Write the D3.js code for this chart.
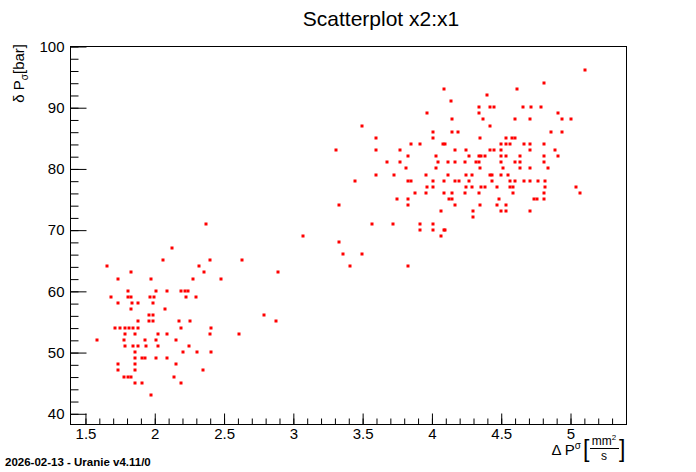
<!DOCTYPE html>
<html>
<head>
<meta charset="utf-8">
<script src="https://cdn.jsdelivr.net/npm/d3@7"></script>
<style>
html,body{margin:0;padding:0;background:#fff;}
svg{display:block;font-family:"Liberation Sans",Arial,Helvetica,sans-serif;}
</style>
</head>
<body>
<svg id="chart" width="696" height="472"></svg>
<script>
// x axis variable (x1) and y axis variable (x2)
const x1Values = [
2.13,2.06,2.40,1.66,2.32,1.83,2.36,1.74,1.98,2.28,2.48,1.81,2.01,2.09,2.19,2.22,2.24,
1.69,1.81,1.83,1.97,2.00,2.23,2.30,1.74,1.84,1.88,1.99,1.83,2.08,1.96,1.99,1.88,1.96,
1.99,2.18,2.26,1.72,1.75,1.79,1.82,1.85,1.88,2.19,2.41,1.79,1.86,2.03,2.09,2.40,2.61,
1.59,1.78,1.93,2.01,2.16,1.79,1.85,1.88,1.94,2.03,2.25,1.86,2.21,2.31,2.41,1.86,1.91,
1.93,2.01,2.09,1.74,1.86,2.16,1.74,1.86,2.35,1.78,1.81,1.83,2.14,1.86,1.91,2.19,1.98,
2.37,2.63,2.89,2.79,2.88,3.07,3.33,3.36,3.50,3.41,3.57,3.72,
4.09,4.14,4.34,3.97,4.34,4.15,3.50,4.01,4.15,4.19,3.60,4.01,4.35,3.85,3.92,4.08,4.10,
3.31,3.60,3.77,4.17,4.25,3.83,4.03,4.27,4.34,3.68,3.77,4.05,4.12,4.17,4.24,4.32,4.34,
3.82,4.03,4.35,3.60,3.73,3.96,4.12,4.25,4.29,3.45,3.83,3.85,4.01,4.09,4.17,4.20,4.27,
3.97,4.01,4.25,4.29,3.88,3.96,4.09,4.15,4.24,4.34,3.75,3.83,4.13,4.15,3.33,3.83,4.17,
4.35,4.30,4.07,4.30,3.92,4.01,3.92,4.01,4.09,4.10,4.07,3.83,
5.11,4.81,4.62,4.40,4.42,4.45,4.66,4.72,4.79,4.91,4.37,4.60,4.71,4.94,5.01,4.42,4.86,
4.94,4.54,4.58,4.60,4.50,4.54,4.57,4.67,4.71,4.81,4.42,4.45,4.50,4.71,4.89,4.36,4.39,
4.50,4.54,4.64,4.81,4.91,4.50,4.60,4.64,4.81,4.52,4.64,4.71,4.84,4.42,4.44,4.50,4.55,
4.44,4.57,4.60,4.67,4.71,4.77,4.82,4.36,4.39,4.47,4.57,4.59,4.82,5.04,4.59,4.81,5.07,
4.49,4.74,4.76,4.81,4.47,4.54,4.50,4.54,4.71
];
const x2Values = [
67,65,65,64,64,63,63,62,62,62,62,60,60,60,60,60,60,
59,59,59,59,59,59,59,58,58,58,58,57,57,56,56,55,55,
55,55,55,54,54,54,54,54,54,54,54,53,53,53,53,53,53,
52,52,52,52,52,51,51,51,51,51,51,50,50,50,50,49,49,
49,49,49,48,48,48,47,47,47,46,46,46,46,45,45,45,43,
71,65,63,56,55,69,68,66,66,64,71,71,
93,91,90,89,89,88,87,86,86,86,85,85,85,84,84,84,84,
83,83,83,83,83,82,82,82,82,81,81,81,81,81,81,81,81,
80,80,80,79,79,79,79,79,79,78,78,78,78,78,78,78,78,
77,77,77,77,76,76,76,76,76,76,75,75,75,75,74,74,74,
74,73,73,72,71,71,70,70,70,70,69,64,
96,94,93,92,90,90,90,90,90,89,88,88,88,88,88,87,86,
86,85,85,85,84,84,84,84,84,84,83,83,83,83,83,82,82,
82,82,82,82,82,81,81,81,81,80,80,80,80,79,79,79,79,
78,78,78,78,78,78,78,77,77,77,77,77,77,77,76,76,76,
75,75,75,75,74,74,73,73,73
];
const xTickValues = [1.5, 2, 2.5, 3, 3.5, 4, 4.5, 5];
const xTickLabels = ["1.5", "2", "2.5", "3", "3.5", "4", "4.5", "5"];
const yTickValues = [40, 50, 60, 70, 80, 90, 100];
const yTickLabels = ["40", "50", "60", "70", "80", "90", "100"];
const titleText = "Scatterplot x2:x1";
const footerText = "2026-02-13 - Uranie v4.11/0";

const points = x1Values.map((v, i) => ({x: v, y: x2Values[i]}));

const W = 696, H = 472;
const frame = {left: 70, top: 46, right: 626, bottom: 424};
const svg = d3.select("#chart");

const x = d3.scaleLinear().domain([1.392, 5.404]).range([frame.left, frame.right]);
const y = d3.scaleLinear().domain([38.25, 100]).range([frame.bottom, frame.top]);

const font = '"Liberation Sans",Arial,Helvetica,sans-serif';

// points
svg.append("g").selectAll("rect").data(points).join("rect")
  .attr("x", d => Math.round(x(d.x)) - 1.5)
  .attr("y", d => Math.round(y(d.y)) - 1.5)
  .attr("width", 3).attr("height", 3)
  .attr("fill", "#ff0000");

// frame
svg.append("rect")
  .attr("x", frame.left + 0.5).attr("y", frame.top + 0.5)
  .attr("width", frame.right - frame.left).attr("height", frame.bottom - frame.top)
  .attr("fill", "none").attr("stroke", "#000").attr("stroke-width", 1);

// x axis
const xMinor = d3.range(15, 54).map(v => v / 10);
const xAxisMinor = d3.axisBottom(x).tickValues(xMinor).tickSizeInner(-6).tickSizeOuter(0).tickFormat("");
const xAxisMajor = d3.axisBottom(x).tickValues(xTickValues).tickSizeInner(-11).tickSizeOuter(0)
  .tickPadding(4).tickFormat((d, i) => xTickLabels[i]);
const gxm = svg.append("g").attr("transform", `translate(0.5,${frame.bottom + 0.5})`).call(xAxisMinor);
const gx = svg.append("g").attr("transform", `translate(0.5,${frame.bottom + 0.5})`).call(xAxisMajor);
[gxm, gx].forEach(g => { g.select(".domain").remove(); g.selectAll("line").attr("stroke", "#000"); });
gx.selectAll("text").attr("font-size", 15).attr("font-family", font).attr("fill", "#000")
  .attr("y", 4).attr("dy", "0.71em");

// y axis
const yMinor = d3.range(40, 101, 2);
const yAxisMinor = d3.axisLeft(y).tickValues(yMinor).tickSizeInner(-8).tickSizeOuter(0).tickFormat("");
const yAxisMajor = d3.axisLeft(y).tickValues(yTickValues).tickSizeInner(-16).tickSizeOuter(0)
  .tickPadding(22).tickFormat((d, i) => yTickLabels[i]);
const gym = svg.append("g").attr("transform", `translate(${frame.left + 0.5},0.5)`).call(yAxisMinor);
const gy = svg.append("g").attr("transform", `translate(${frame.left + 0.5},0.5)`).call(yAxisMajor);
[gym, gy].forEach(g => { g.select(".domain").remove(); g.selectAll("line").attr("stroke", "#000"); });
gy.selectAll("text").attr("font-size", 15).attr("font-family", font).attr("fill", "#000")
  .attr("x", -6);

// title
svg.append("text").attr("x", 381).attr("y", 26).attr("text-anchor", "middle")
  .attr("font-size", 21).attr("font-family", font).attr("fill", "#000").text(titleText);

// y label: δ P_σ[bar]
const yl = svg.append("text").attr("transform", "translate(24,44) rotate(-90)")
  .attr("text-anchor", "end").attr("font-size", 15).attr("font-family", font).attr("fill", "#000");
yl.append("tspan").text("δ P");
yl.append("tspan").attr("font-size", 10).attr("dy", 4).text("σ");
yl.append("tspan").attr("dy", -4).text("[bar]");

// x label: Δ P^σ [mm²/s]
const xl = svg.append("g").attr("font-family", font).attr("fill", "#000");
xl.append("text").attr("x", 581).attr("y", 455).attr("text-anchor", "end").attr("font-size", 15)
  .call(t => { t.append("tspan").text("Δ P"); t.append("tspan").attr("font-size", 10).attr("dy", -6).text("σ"); });
xl.append("text").attr("x", 583).attr("y", 457).attr("font-size", 23).text("[");
xl.append("text").attr("x", 604).attr("y", 445).attr("text-anchor", "middle").attr("font-size", 12)
  .call(t => { t.append("tspan").text("mm"); t.append("tspan").attr("font-size", 8).attr("dy", -5).text("2"); });
xl.append("line").attr("x1", 590).attr("x2", 619).attr("y1", 448.5).attr("y2", 448.5)
  .attr("stroke", "#000").attr("stroke-width", 1);
xl.append("text").attr("x", 604).attr("y", 460).attr("text-anchor", "middle").attr("font-size", 12).text("s");
xl.append("text").attr("x", 619).attr("y", 457).attr("font-size", 23).text("]");

// footer
svg.append("text").attr("x", 5).attr("y", 466).attr("font-size", 11.5).attr("font-weight", "bold")
  .attr("font-family", font).attr("fill", "#000").text(footerText);
</script>
</body>
</html>
